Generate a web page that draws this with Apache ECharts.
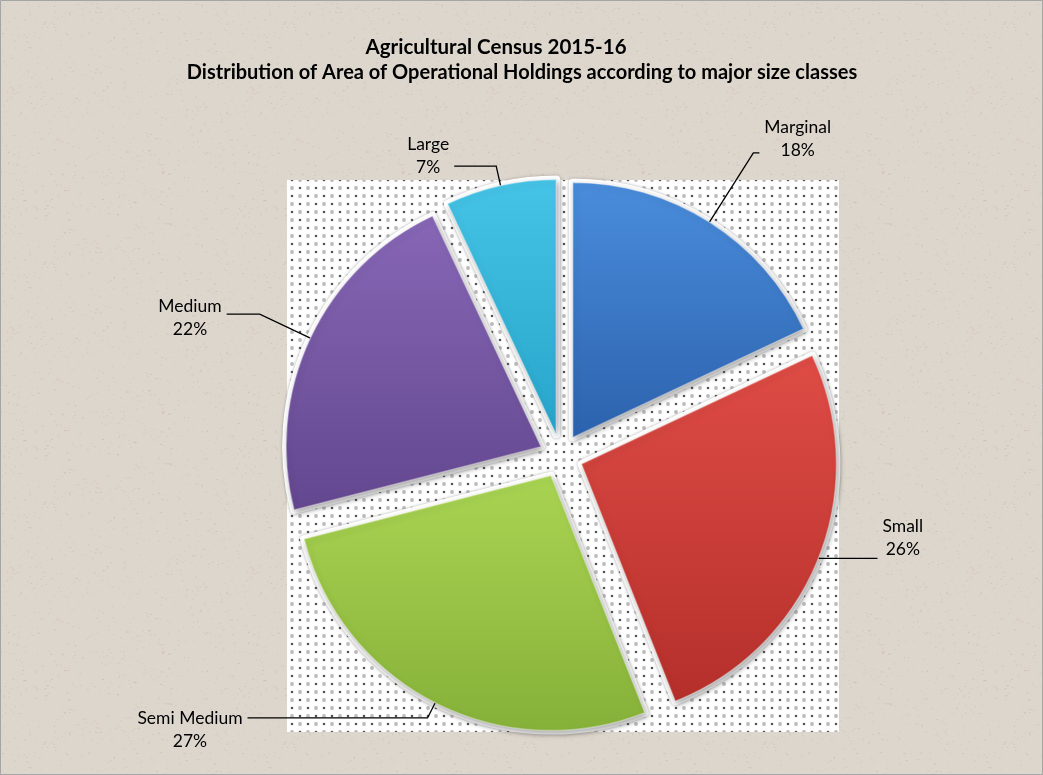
<!DOCTYPE html>
<html>
<head>
<meta charset="utf-8">
<title>Agricultural Census 2015-16</title>
<script src="https://cdn.jsdelivr.net/npm/echarts@6/dist/echarts.min.js"></script>
<style>
  html, body { margin: 0; padding: 0; background: #ddd6cc; }
  #chart { width: 1043px; height: 775px; }
</style>
</head>
<body>
<div id="chart"></div>
<script>
// Share of operated area by size class of holding (%)
const categories = ['Marginal', 'Small', 'Semi Medium', 'Medium', 'Large'];
const shares = [18, 26, 27, 22, 7];

const titleText = 'Agricultural Census 2015-16';
const subtitleText = 'Distribution of Area of Operational Holdings according to major size classes';

// Slice fills: [lighter top, darker bottom]
const sliceColors = [
  ['#4a8ddc', '#2c62ad'],
  ['#df4c46', '#b52f2a'],
  ['#a9d452', '#86b139'],
  ['#8767b6', '#63478f'],
  ['#45c4e7', '#27a5ca']
];

// Leader line geometry and label nudges for each slice
const lineLen1 = [82, 1, 17, 56, 20];
const lineLen2 = [6, 58, 180, 33, 42];
const labelPad = [[0, 0, 29, 0], [0, 0, 40, 0], [24, 0, 0, 0], [8, 0, 0, 0], [0, 0, 21, 0]];

const PIE_CENTER = [561, 456];
const PIE_RADIUS = 255;
const EXPLODE = 22;
const FONT = 'Lato, "Open Sans", sans-serif';

function makeTile(w, h, draw) {
  const c = document.createElement('canvas');
  c.width = w; c.height = h;
  draw(c.getContext('2d'));
  return c;
}

// Paper grain for the chart background
const paperTile = makeTile(240, 240, ctx => {
  ctx.fillStyle = '#ddd6cc';
  ctx.fillRect(0, 0, 240, 240);
  let s = 12345;
  const next = () => { s = (s * 16807) % 2147483647; return s / 2147483647; };
  for (let i = 0; i < 1100; i++) {
    const x = next() * 240, y = next() * 240, a = 0.04 + next() * 0.12;
    ctx.fillStyle = 'rgba(110,95,80,' + a.toFixed(3) + ')';
    ctx.fillRect(x, y, next() < 0.25 ? 2 : 1, 1);
  }
});

// Dotted fill behind the pie
const dotTile = makeTile(16, 16, ctx => {
  ctx.fillStyle = '#ffffff';
  ctx.fillRect(0, 0, 16, 16);
  const dot = (x, y, r, c) => { ctx.fillStyle = c; ctx.beginPath(); ctx.arc(x, y, r, 0, Math.PI * 2); ctx.fill(); };
  dot(4, 4, 1.3, 'rgba(55,55,55,0.85)');
  dot(12, 4, 1.9, 'rgba(140,140,140,0.6)');
  dot(4, 12, 1.9, 'rgba(140,140,140,0.6)');
  dot(12, 12, 1.3, 'rgba(55,55,55,0.85)');
});

const chart = echarts.init(document.getElementById('chart'), null, { renderer: 'canvas' });

const sliceData = categories.map((name, i) => ({
  name,
  value: shares[i],
  selected: true,
  itemStyle: {
    color: new echarts.graphic.LinearGradient(0, 0, 0, 1, [
      { offset: 0, color: sliceColors[i][0] },
      { offset: 1, color: sliceColors[i][1] }
    ])
  },
  label: { padding: labelPad[i] },
  labelLine: { length: lineLen1[i], length2: lineLen2[i] }
}));

const haloData = categories.map((name, i) => ({ name, value: shares[i], selected: true }));

const option = {
  animation: false,
  backgroundColor: 'transparent',
  graphic: [
    { type: 'rect', z: 0, shape: { x: 0, y: 0, width: 1043, height: 775 },
      style: { fill: { image: paperTile, repeat: 'repeat' } }, silent: true },
    { type: 'rect', z: 1, shape: { x: 0.5, y: 0.5, width: 1042, height: 774 },
      style: { fill: 'none', stroke: '#a5a5a5', lineWidth: 1 }, silent: true },
    { type: 'rect', z: 1, shape: { x: 287, y: 180, width: 552, height: 552 },
      style: { fill: { image: dotTile, repeat: 'repeat' } }, silent: true },
    { type: 'text', z: 3, x: 496, y: 47,
      style: { text: titleText, fill: '#000', font: 'bold 20.5px ' + FONT, align: 'center', verticalAlign: 'middle' } },
    { type: 'text', z: 3, x: 522, y: 73,
      style: { text: subtitleText, fill: '#000', font: 'bold 20px ' + FONT, align: 'center', verticalAlign: 'middle' } }
  ],
  series: [
    {
      // white rim around each slice
      type: 'pie',
      z: 2,
      silent: true,
      center: PIE_CENTER,
      radius: PIE_RADIUS,
      selectedMode: 'multiple',
      selectedOffset: EXPLODE,
      avoidLabelOverlap: false,
      label: { show: false },
      labelLine: { show: false },
      emphasis: { disabled: true },
      itemStyle: {
        color: '#ffffff', borderColor: '#ffffff', borderWidth: 8,
        shadowBlur: 3, shadowColor: 'rgba(120,120,120,0.6)'
      },
      data: haloData
    },
    {
      type: 'pie',
      z: 3,
      center: PIE_CENTER,
      radius: PIE_RADIUS,
      selectedMode: 'multiple',
      selectedOffset: EXPLODE,
      avoidLabelOverlap: false,
      emphasis: { disabled: true },
      itemStyle: {
        borderColor: 'rgba(255,255,255,0.35)', borderWidth: 1.5,
        shadowBlur: 6, shadowOffsetX: 2, shadowOffsetY: 3, shadowColor: 'rgba(0,0,0,0.35)'
      },
      label: {
        show: true,
        position: 'outside',
        distanceToLabelLine: 5,
        formatter: p => '{t|' + p.name + '}\n{t|' + p.value + '%}',
        rich: { t: { align: 'center', fontFamily: FONT, fontSize: 17.5, lineHeight: 23, color: '#000' } }
      },
      labelLine: { show: true, smooth: false, lineStyle: { color: '#000', width: 1.3 } },
      data: sliceData
    }
  ]
};

chart.setOption(option);
</script>
</body>
</html>
